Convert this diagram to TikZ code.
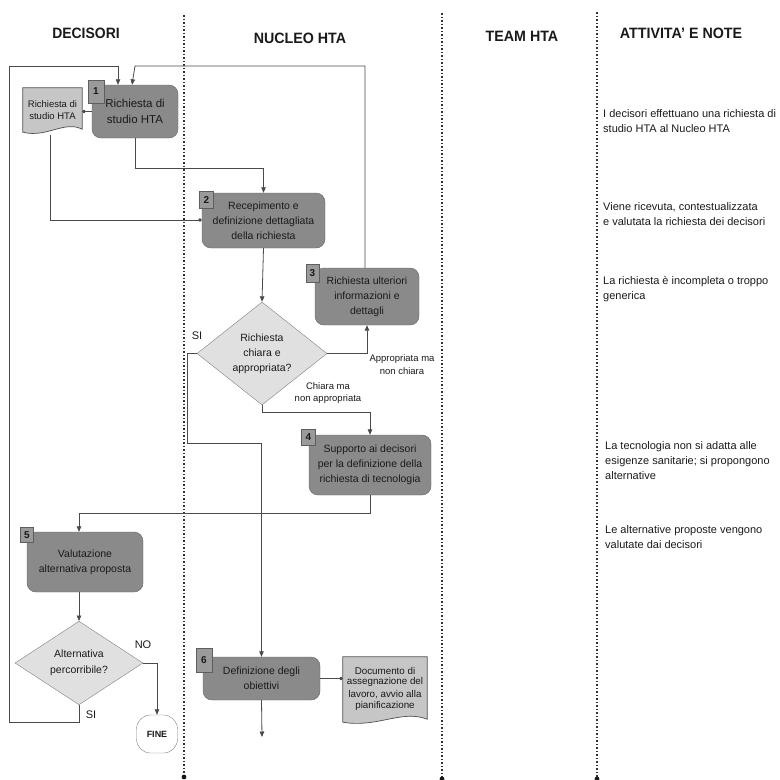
\documentclass[tikz,border=0pt]{standalone}
\usepackage{fontspec}
\setmainfont{Liberation Sans}
\usetikzlibrary{shapes.geometric,arrows.meta,backgrounds,calc}
\definecolor{boxfill}{HTML}{8A8A8A}
\definecolor{boxline}{HTML}{636363}
\definecolor{tagfill}{HTML}{9A9A9A}
\definecolor{tagline}{HTML}{5E5E5E}
\definecolor{decfill}{HTML}{E0E0E0}
\definecolor{decline}{HTML}{808080}
\definecolor{docfill}{HTML}{C6C6C6}
\definecolor{docline}{HTML}{505050}
\definecolor{lin}{HTML}{4A4A4A}
\definecolor{txt}{HTML}{1A1A1A}
\begin{document}
\begin{tikzpicture}[x=1pt,y=-1pt,
  proc/.style={draw=boxline, fill=boxfill, rounded corners=9pt, inner sep=2pt, align=center, text=txt, font=\fontsize{10.5}{15}\selectfont},
  tagbox/.style={draw=tagline, fill=tagfill, inner sep=0pt, text=txt, font=\fontsize{10}{12}\selectfont\bfseries},
  dec/.style={diamond, draw=decline, fill=decfill, inner sep=0pt, align=center, text=txt, font=\fontsize{10.5}{15}\selectfont},
  docnode/.style={inner sep=0pt, align=center, text=txt},
  docshape/.style={draw=docline, fill=docfill, line width=0.7pt},
  conn/.style={draw=lin, line width=0.8pt},
  arr/.style={conn, -{Triangle[length=5.5pt,width=4.5pt]}},
  dotend/.style={conn, -{Circle[length=3.6pt]}},
  lane/.style={draw=black!80, line width=1.6pt, dash pattern=on 1.6pt off 1.9pt},
  lbl/.style={inner sep=0pt, align=center, text=txt, font=\fontsize{9.5}{12.7}\selectfont},
  note/.style={inner sep=0pt, align=left, anchor=west, text=txt, font=\fontsize{11}{15}\selectfont},
  head/.style={inner sep=0pt, text=txt, font=\fontsize{15}{18}\selectfont\bfseries},
  finebox/.style={draw=decline, fill=white, rounded corners=14pt, minimum width=41pt, minimum height=38pt, inner sep=0pt, text=txt, font=\fontsize{9}{11}\selectfont\bfseries}
]
\useasboundingbox (0,0) rectangle (780,780);

% lanes
\draw[lane] (184,15) -- (184,776);
\draw[lane] (442,13) -- (442,778);
\draw[lane] (597,12) -- (597,778);
\fill[black!90] (184,777) circle (2.4pt);
\fill[black!90] (442,779) circle (2.4pt);
\fill[black!90] (597,779) circle (2.4pt);

% headers
\node[head] (h1) at (86,33) {\scalebox{0.93}[1]{DECISORI}};
\node[head] (h2) at (300,38) {\scalebox{0.95}[1]{NUCLEO HTA}};
\node[head] (h3) at (522,36) {\scalebox{0.95}[1]{TEAM HTA}};
\node[head] (h4) at (681,33) {\scalebox{0.95}[1]{ATTIVITA' E NOTE}};

% process boxes
\node[proc, minimum width=86pt, minimum height=53pt, font=\fontsize{11.5}{15.5}\selectfont] (b1) at (135,111.5) {Richiesta di\\studio HTA};
\node[proc, minimum width=123pt, minimum height=55pt] (b2) at (263.5,220.5) {Recepimento e\\definizione dettagliata\\della richiesta};
\node[proc, minimum width=104pt, minimum height=57pt] (b3) at (367,296.5) {Richiesta ulteriori\\informazioni e\\dettagli};
\node[proc, minimum width=122pt, minimum height=60pt] (b4) at (370,465) {Supporto ai decisori\\per la definizione della\\richiesta di tecnologia};
\node[proc, minimum width=116pt, minimum height=60pt] (b5) at (85,562) {Valutazione\\alternativa proposta};
\node[proc, minimum width=117pt, minimum height=43pt] (b6) at (261.5,678.5) {Definizione degli\\obiettivi};

% tags
\node[tagbox, minimum width=16pt, minimum height=23pt] (t1) at (96,91.5) {1};
\node[tagbox, minimum width=14pt, minimum height=17pt] (t2) at (206.5,200) {2};
\node[tagbox, minimum width=13pt, minimum height=18pt] (t3) at (312.5,273) {3};
\node[tagbox, minimum width=14pt, minimum height=16pt] (t4) at (308.5,437.5) {4};
\node[tagbox, minimum width=13pt, minimum height=15pt] (t5) at (27,535) {5};
\node[tagbox, minimum width=16pt, minimum height=24pt] (t6) at (204,660) {6};

% decisions
\node[dec, minimum width=130pt, minimum height=103pt] (d1) at (262,353.5) {Richiesta\\chiara e\\appropriata?};
\node[dec, minimum width=128pt, minimum height=82pt, font=\fontsize{10.5}{16}\selectfont] (d2) at (79,663) {Alternativa\\percorribile?};

% end
\node[finebox] (fine) at (157,734) {FINE};

% documents
\node[docnode, minimum width=59pt, minimum height=44pt, font=\fontsize{9.5}{12}\selectfont] (doc1) at (52.5,110) {Richiesta di\\studio HTA};
\node[docnode, minimum width=84pt, minimum height=65pt, font=\fontsize{9.8}{13.7}\selectfont] (doc2) at (385,689.5) {\raisebox{3pt}{\shortstack{Documento di\\assegnazione del\\lavoro, avvio alla\\pianificazione}}};
\begin{scope}[on background layer]
\path[docshape] (doc1.north west) -- (doc1.north east) -- ($(doc1.south east)+(0,-3)$)
  .. controls ($(doc1.south east)+(-18,-12)$) and ($(doc1.south west)+(24,6)$) .. (doc1.south west) -- cycle;
\path[docshape] (doc2.north west) -- (doc2.north east) -- ($(doc2.south east)+(0,-3)$)
  .. controls ($(doc2.south east)+(-25,-13)$) and ($(doc2.south west)+(34,6)$) .. (doc2.south west) -- cycle;
\end{scope}

% helper coordinates
\coordinate (topy) at (0,66);
\coordinate (lt) at (9,66);
\coordinate (lb) at (9,722);
\coordinate (j1) at (0,168);
\coordinate (sj) at (187,443);
\coordinate (cj) at (0,412);
\coordinate (fj) at (0,513);
\coordinate (docj) at (51,220);
\coordinate (endp) at (262,737);

% connectors
\draw[dotend] (b1.west) -- (b1.west -| doc1.east);
\draw[arr] (b1.south) |- (j1 -| b2.north) -- (b2.north);
\draw[dotend] ($(doc1.south west)+(28,3)$) |- (docj -| b2.west);
\draw[arr] (b2.south) -- (d1.north);
\draw[arr] (d1.east) -| (b3.south);
\draw[arr] ([xshift=-2pt]b3.north) |- (topy -| b1.north) -- ([xshift=-3pt]b1.north);
\draw[arr] (d2.south) |- (lb) -- (lt) -| ([xshift=-17pt]b1.north);
\draw[arr] (d1.west) -| (sj) -| (b6.north);
\draw[arr] (d1.south) |- (cj -| b4.north) -- (b4.north);
\draw[arr] (b4.south) |- (fj -| d2.north) -- (d2.north |- b5.north);
\draw[arr] (d2.north |- b5.south) -- (d2.north);
\draw[arr] (d2.east) -| (fine.north);
\draw[arr] (b6.south) -- (endp);
\draw[dotend] (b6.east) -- (b6.east -| doc2.west);

% connector labels
\node[lbl] (la) at (402,364.5) {Appropriata ma\\non chiara};
\node[lbl] (lc) at (328,393) {Chiara ma\\non appropriata};
\node[lbl, font=\fontsize{11}{13}\selectfont] (lsi1) at (197,336) {SI};
\node[lbl, font=\fontsize{11}{13}\selectfont] (lno) at (143,645) {NO};
\node[lbl, font=\fontsize{11}{13}\selectfont] (lsi2) at (91,715) {SI};

% notes
\node[note] (n1) at (603,121) {I decisori effettuano una richiesta di\\studio HTA al Nucleo HTA};
\node[note] (n2) at (603,214.5) {Viene ricevuta, contestualizzata\\e valutata la richiesta dei decisori};
\node[note] (n3) at (603,289.5) {La richiesta è incompleta o troppo\\generica};
\node[note] (n4) at (605,461) {La tecnologia non si adatta alle\\esigenze sanitarie; si propongono\\alternative};
\node[note] (n5) at (605,537.5) {Le alternative proposte vengono\\valutate dai decisori};
\end{tikzpicture}
\end{document}
